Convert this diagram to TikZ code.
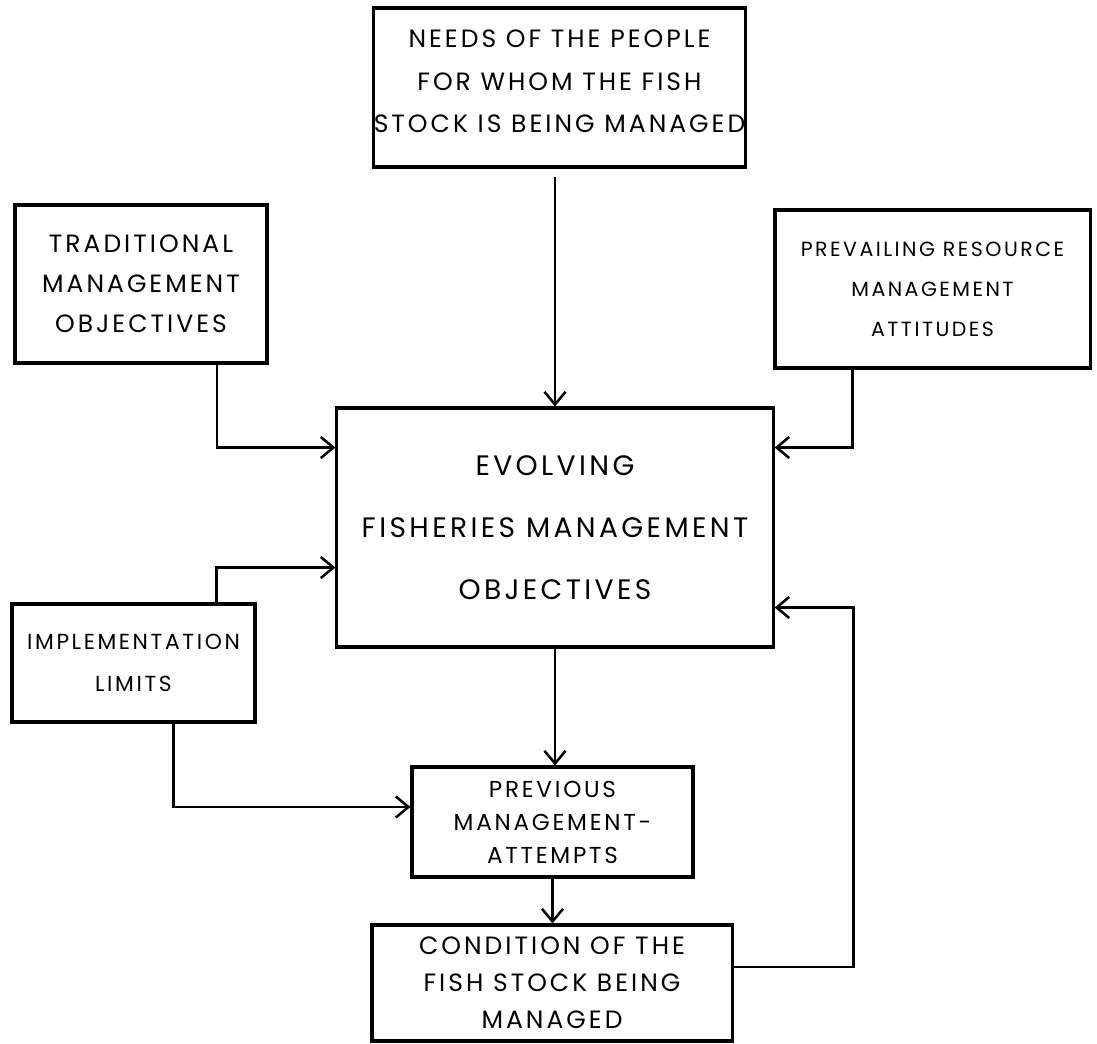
\documentclass[tikz,border=0pt]{standalone}
\usepackage{fontspec}
\setmainfont{Poppins}[LetterSpace=12]
\usetikzlibrary{arrows.meta, positioning}

\tikzset{
	box/.style={draw, line width=2.2pt, align=center, inner sep=0pt},
	flow/.style={-{Straight Barb[length=9pt,width=15pt]}, line width=1.8pt},
}

\begin{document}
\begin{tikzpicture}[x=0.025cm, y=-0.025cm]
	\useasboundingbox (0,0) rectangle (1097,1044);
	
	% Input boxes
	\node[box, minimum width=9.125cm, minimum height=3.975cm, font=\fontsize{17.8pt}{30pt}\selectfont] (needs) at (559.5,87.5)
		{NEEDS OF THE PEOPLE\\FOR WHOM THE FISH\\STOCK IS BEING MANAGED\\[-21pt]};
	\node[box, minimum width=6.3cm, minimum height=3.95cm, font=\fontsize{17.8pt}{28.5pt}\selectfont] (trad) at (141,284)
		{TRADITIONAL\\MANAGEMENT\\OBJECTIVES};
	\node[box, minimum width=7.875cm, minimum height=3.95cm, font=\fontsize{14.6pt}{28.5pt}\selectfont] (prevail) at (932.5,289)
		{PREVAILING RESOURCE\\MANAGEMENT\\ATTITUDES};
	\node[box, minimum width=6.075cm, minimum height=2.95cm, font=\fontsize{15.5pt}{30pt}\selectfont] (impl) at (133.5,663)
		{IMPLEMENTATION\\LIMITS};
	
	% Central box
	\node[box, minimum width=10.9cm, minimum height=5.975cm, font=\fontsize{20pt}{44pt}\selectfont] (evolve) at (555,527.5)
		{EVOLVING\\FISHERIES MANAGEMENT\\OBJECTIVES};
	
	% Lower boxes
	\node[box, minimum width=7.025cm, minimum height=2.75cm, font=\fontsize{16.4pt}{23.5pt}\selectfont] (prev) at (552.5,822)
		{PREVIOUS\\MANAGEMENT-\\ATTEMPTS};
	\node[box, minimum width=9cm, minimum height=2.9cm, font=\fontsize{17.8pt}{26.3pt}\selectfont] (cond) at (552,983)
		{CONDITION OF THE\\FISH STOCK BEING\\MANAGED};
	
	% Arrows into the central box
	\draw[flow, shorten <=6pt] (needs.south -| evolve.north) -- (evolve.north);
	\draw[flow] ([shift={(76,0)}]trad.south) |- ([shift={(0,-80)}]evolve.west);
	\draw[flow] ([shift={(-80,0)}]prevail.south) |- ([shift={(0,-80)}]evolve.east);
	\draw[flow] ([shift={(83,0)}]impl.north) |- ([shift={(0,40)}]evolve.west);
	
	% Downward chain
	\draw[flow] (evolve.south) -- (evolve.south |- prev.north);
	\draw[flow] ([shift={(40,0)}]impl.south) |- ([shift={(0,-15)}]prev.west);
	\draw[flow] (prev.south) -- (prev.south |- cond.north);
	
	% Feedback loop
	\draw[flow] ([shift={(0,-16)}]cond.east) -| ([shift={(79,80)}]evolve.east) -- ([shift={(0,80)}]evolve.east);
	
\end{tikzpicture}
\end{document}
